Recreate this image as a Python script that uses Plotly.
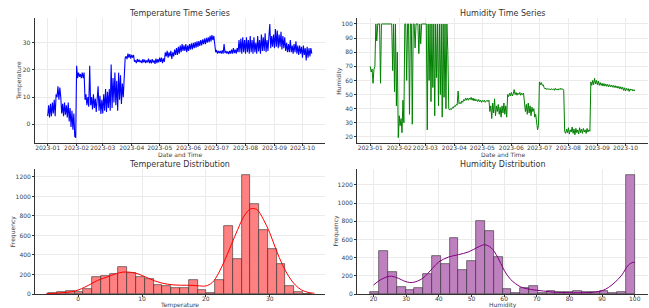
import numpy as np
import pandas as pd
import plotly.graph_objects as go

# ---------------- data ----------------
series_start = "2023-01-01"

temperature = [
    # Jan
    3, 7, 2.5, 7.5, 3, 8, 4,
    9, 3, 11, 10, 14, 9, 13.5,
    10, 4, 7.5, 3, 8, 3.5, 7,
    2.5, 8, 1, 6, -1, 5, -2,
    4, -4.5, -4.9,
    # Feb
    21.5, 17, 19, 17.5, 18.5, 17, 19,
    17, 19, 9, 11, 7, 10, 6.5,
    21.5, 7, 10, 5.5, 11, 6, 9.5,
    4.5, 11, 14, 5, 10.5, 3.8, 9,
    # Mar
    4, 11, 5, 13, 4.5, 12, 6,
    13, 5, 22, 6, 17, 8, 19,
    7, 16, 5, 19, 9, 18, 7.5,
    15, 10, 16, 24.4, 25, 24, 26,
    24.5, 25.8, 24.2,
    # Apr
    25.5, 24.5, 25.5, 23,
    23.5, 22.5, 24, 23, 23.8, 22.8, 23.5,
    22.5, 24, 22.8, 23.8, 22.5, 23.5, 22.8,
    24.2, 22.5, 23.7, 22.4, 24, 22.7, 23.5,
    22.2, 24.2, 22.5, 24, 22.8,
    # May
    24.5, 23, 24.5, 22.5, 24.2,
    23, 26.5, 25, 27, 24.5, 26.5, 25,
    27, 24, 26.5, 25, 27.5, 25.5, 28,
    25.5, 28.5, 26, 29, 26.5, 29.5, 27,
    29, 27, 29.5, 26.5, 29,
    # Jun
    27, 29.5, 27.5, 29.8, 27.5, 30, 28, 30.2,
    28.2, 30.5, 28.5, 30.6, 28.8, 31, 29,
    31.2, 29.5, 31.5, 29.5, 31.8, 30, 32,
    30.2, 32.5, 30.5, 32.8, 31, 32.5, 29,
    26.5,
    # Jul
    27.3, 26, 27, 26.2, 27, 26,
    27.2, 26, 29.5, 26.2, 27, 26, 26.8,
    25.8, 27, 26, 27.5, 26, 28, 26.2,
    27.5, 26, 28, 26.5, 31, 26.5, 31.5,
    26, 32, 26.5, 31,
    # Aug
    26, 32, 26.5, 31, 26, 32.5, 26.5, 31,
    26, 32, 26.5, 30, 26, 32.5, 26.8,
    31, 26, 33, 27, 32, 27, 33.5,
    26.5, 31, 27, 32, 36.9, 28, 32.5,
    28.5, 33,
    # Sep
    28, 35, 28.5, 34.5, 28,
    33, 28.5, 34, 27.5, 32.5, 28, 32,
    27, 30, 26.5, 29.5, 26.5, 31, 26.5,
    29, 26, 29.5, 26.5, 30.5, 26, 29,
    25.5, 29, 26, 28.5,
    # Oct
    24.5, 29, 25.5, 28, 23.5, 28.5, 24.5, 28, 25, 28, 26,
]

humidity = [
    # Jan
    70, 66, 68, 58, 68, 70, 100,
    88, 100, 100, 100, 58, 100, 100,
    100, 100, 100, 100, 100, 100, 100,
    100, 100, 100, 67, 100, 52, 100,
    42, 80, 19.5,
    # Feb
    35, 28, 33, 23, 46, 30, 100,
    100, 60, 100, 100, 36, 100, 100,
    29, 100, 100, 83, 100, 100, 100,
    79, 100, 86, 100, 100, 100, 100,
    # Mar
    100, 100, 25, 100, 60, 100, 45,
    100, 55, 100, 35, 100, 62, 100,
    42, 100, 50, 100, 34, 100, 48,
    100, 40, 100, 81, 40, 39, 40,
    39.5, 41, 40.5,
    # Apr
    42, 41.5, 43, 42.5,
    52.5, 43.5, 44.5, 43.5, 45.5, 44.5, 46.5,
    45.5, 47.5, 46, 47.5, 46, 47.5, 46.5,
    48, 46, 47.5, 45.5, 47, 45.5, 46.5,
    45, 46.5, 45, 46, 44.5,
    # May
    46, 45, 46, 44.5, 45.5, 46, 45, 46,
    38, 42, 33, 44, 37, 47, 35,
    42, 38, 43, 36, 41, 34, 42,
    37, 44, 36, 42, 34,
    50, 48.5, 51, 49,
    # Jun
    51.5, 49, 50.5, 53.5, 50, 51.5, 49.5,
    51, 50, 51.5, 49.5, 51, 50, 51,
    42, 38, 43, 36, 44, 37, 42,
    35, 41, 38, 40, 34, 36, 27, 25,
    28,
    # Jul
    59, 57, 58.5, 56.5, 57, 55,
    54, 54.5, 53.5, 54.3, 53.5, 54, 53.2,
    54.2, 53.5, 54, 53, 54.5, 53.3, 54,
    53.2, 54.2, 53.5, 54.5, 53.5, 54, 53,
    24, 22.5, 25.5, 23,
    # Aug
    26.5, 22, 25, 23.5, 27, 22.5, 25.5,
    21.5, 26, 23, 25, 22, 26.5, 23,
    25.5, 22.5, 26, 23.5, 25, 22.5, 26,
    23.5, 25, 24,
    59, 56.5, 60, 57, 61.5, 57.5, 60,
    # Sep
    57, 59.5, 56.5,
    58.5, 56.5, 58, 56, 57.8, 56, 57.5,
    55.8, 57.2, 55.5, 57, 55.5, 56.8, 55.2,
    56.5, 55, 56.3, 54.8, 56, 54.5, 55.8,
    54, 55.5, 53.8, 55.3, 53, 54.8,
    # Oct
    52.5, 54.5, 53, 54.2, 52.2, 54, 53, 53.8, 52.5, 53.5, 52.5,
]

# histogram of temperature: 30 bins between these limits
temp_bin_lo, temp_bin_hi = -4.7, 36.6
temp_counts = [13, 17, 31, 24, 51, 172, 186, 205, 272, 212,
               170, 152, 92, 80, 65, 60, 142, 40, 10, 144,
               697, 359, 1220, 923, 656, 458, 304, 85, 20, 5]
temp_kde_x = [-5, -3, -1, 0, 1, 2, 3, 4, 5, 6, 7, 8, 9, 10, 11, 12, 13, 14, 15,
              16, 17, 18, 19, 20, 21, 22, 23, 24, 25, 26, 27, 28, 29, 30, 31,
              32, 33, 34, 35, 36, 37]
temp_kde_y = [3, 10, 24, 41, 69, 103, 138, 162, 186, 210, 224, 224, 214, 190,
              162, 134, 114, 100, 93, 90, 90, 88, 83, 83, 117, 214, 352, 507,
              662, 800, 872, 865, 766, 628, 455, 300, 179, 93, 41, 17, 7]

# histogram of humidity: 30 bins between these limits
hum_bin_lo, hum_bin_hi = 19.0, 100.0
hum_counts = [18, 469, 240, 73, 40, 65, 215, 418, 335, 611,
              269, 360, 808, 697, 411, 51, 15, 62, 91, 15,
              29, 22, 18, 29, 18, 22, 29, 15, 25, 1310]
hum_kde_x = [20, 22, 25, 27, 30, 32, 35, 38, 40, 43, 46, 49, 52, 54, 56, 58, 60,
             62, 65, 68, 72, 76, 80, 85, 88, 90, 92, 94, 96, 98, 99.5, 100]
hum_kde_y = [98, 153, 196, 182, 135, 127, 171, 280, 353, 407, 433, 462, 516,
             542, 509, 407, 262, 160, 80, 51, 33, 18, 15, 15, 22, 36, 73, 131,
             207, 316, 349, 345]

# ---------------- figure ----------------
W, H = 649, 308
FONT = "DejaVu Sans"
TXT = "#404040"


def fx(px):
    return px / W


def fy(py):
    return 1 - py / H


def padded(lo, hi, frac=0.05):
    span = hi - lo
    return [lo - frac * span, hi + frac * span]


dates_t = pd.date_range(series_start, periods=len(temperature), freq="D")
dates_h = pd.date_range(series_start, periods=len(humidity), freq="D")

t_edges = np.linspace(temp_bin_lo, temp_bin_hi, len(temp_counts) + 1)
t_centers = (t_edges[:-1] + t_edges[1:]) / 2
t_width = t_edges[1] - t_edges[0]
h_edges = np.linspace(hum_bin_lo, hum_bin_hi, len(hum_counts) + 1)
h_centers = (h_edges[:-1] + h_edges[1:]) / 2
h_width = h_edges[1] - h_edges[0]

fig = go.Figure()

fig.add_trace(go.Scatter(x=dates_t, y=temperature, mode="lines",
                         line=dict(color="#0000ff", width=1.1),
                         xaxis="x", yaxis="y", showlegend=False))
fig.add_trace(go.Scatter(x=dates_h, y=humidity, mode="lines",
                         line=dict(color="#008000", width=1),
                         xaxis="x2", yaxis="y2", showlegend=False))

fig.add_trace(go.Bar(x=t_centers, y=temp_counts, width=t_width,
                     marker=dict(color="#ff8080",
                                 line=dict(color="rgba(40,40,40,0.85)", width=0.7)),
                     xaxis="x3", yaxis="y3", showlegend=False))
fig.add_trace(go.Scatter(x=temp_kde_x, y=temp_kde_y, mode="lines",
                         line=dict(color="#ff0000", width=1, shape="spline"),
                         xaxis="x3", yaxis="y3", showlegend=False))

fig.add_trace(go.Bar(x=h_centers, y=hum_counts, width=h_width,
                     marker=dict(color="#bf80bf",
                                 line=dict(color="rgba(40,40,40,0.85)", width=0.7)),
                     xaxis="x4", yaxis="y4", showlegend=False))
fig.add_trace(go.Scatter(x=hum_kde_x, y=hum_kde_y, mode="lines",
                         line=dict(color="#800080", width=1, shape="spline"),
                         xaxis="x4", yaxis="y4", showlegend=False))

axis_common = dict(showline=True, linecolor="#333333", linewidth=0.8,
                   showgrid=True, gridcolor="#ebebeb", gridwidth=0.6,
                   zeroline=False, ticks="outside", ticklen=2,
                   tickcolor="#333333", tickwidth=0.8, automargin=False,
                   tickangle=0,
                   tickfont=dict(family=FONT, size=6, color=TXT))
x_extra = dict(ticklabelstandoff=-3)

# domains (pixels)
TL = dict(x=(34.5, 325), y=(18.3, 143.3))
TR = dict(x=(357, 648), y=(18.3, 143.3))
BL = dict(x=(35, 325), y=(169, 294))
BR = dict(x=(357, 648), y=(169, 294))


def xdom(d):
    return [fx(d["x"][0]), fx(d["x"][1])]


def ydom(d):
    return [fy(d["y"][1]), fy(d["y"][0])]


span_t = dates_t[-1] - dates_t[0]
xr_t = [dates_t[0] - 0.05 * span_t, dates_t[-1] + 0.05 * span_t]
span_h = dates_h[-1] - dates_h[0]
xr_h = [dates_h[0] - 0.05 * span_h, dates_h[-1] + 0.05 * span_h]

fig.update_layout(
    template="none",
    width=W, height=H,
    margin=dict(l=0, r=0, t=0, b=0, pad=0),
    paper_bgcolor="white", plot_bgcolor="white",
    bargap=0, barmode="overlay",
    font=dict(family=FONT, color=TXT),
    xaxis=dict(axis_common, **x_extra, domain=xdom(TL), anchor="y", type="date",
               range=xr_t, dtick="M1", tick0="2023-01-01", tickformat="%Y-%m"),
    yaxis=dict(axis_common, domain=ydom(TL), anchor="x",
               range=padded(min(temperature), max(temperature)), dtick=10),
    xaxis2=dict(axis_common, **x_extra, domain=xdom(TR), anchor="y2", type="date",
                range=xr_h, dtick="M1", tick0="2023-01-01", tickformat="%Y-%m"),
    yaxis2=dict(axis_common, domain=ydom(TR), anchor="x2",
                range=padded(min(humidity), max(humidity)), dtick=10),
    xaxis3=dict(axis_common, **x_extra, domain=xdom(BL), anchor="y3",
                range=padded(temp_bin_lo, temp_bin_hi), dtick=10),
    yaxis3=dict(axis_common, domain=ydom(BL), anchor="x3",
                range=[0, max(temp_counts) * 1.05], dtick=200),
    xaxis4=dict(axis_common, **x_extra, domain=xdom(BR), anchor="y4",
                range=padded(hum_bin_lo, hum_bin_hi), dtick=10),
    yaxis4=dict(axis_common, domain=ydom(BR), anchor="x4",
                range=[0, max(hum_counts) * 1.05], dtick=200),
)


def label(text, px, py, size=6, angle=0, color=TXT):
    fig.add_annotation(text=text, x=fx(px), y=fy(py), xref="paper", yref="paper",
                       xanchor="center", yanchor="middle", showarrow=False,
                       textangle=angle, font=dict(family=FONT, size=size, color=color))


# subplot titles
label("Temperature Time Series", 180, 13.5, size=8, color="#333333")
label("Humidity Time Series", 502.5, 13.5, size=8, color="#333333")
label("Temperature Distribution", 180, 164.3, size=8, color="#333333")
label("Humidity Distribution", 503, 164.3, size=8, color="#333333")

# axis titles
label("Date and Time", 180, 154.5)
label("Date and Time", 502.5, 154.5)
label("Temperature", 18.5, 80.8, angle=-90)
label("Humidity", 339, 80.8, angle=-90)
label("Temperature", 180, 304.5)
label("Humidity", 503, 304.5)
label("Frequency", 12.7, 231.5, angle=-90)
label("Frequency", 335, 231.5, angle=-90)

fig.write_html(
    "out.html",
    config={"displayModeBar": False},
    post_script="document.body.style.margin='0';document.body.style.padding='0';"
                "document.body.style.overflow='hidden';",
)
